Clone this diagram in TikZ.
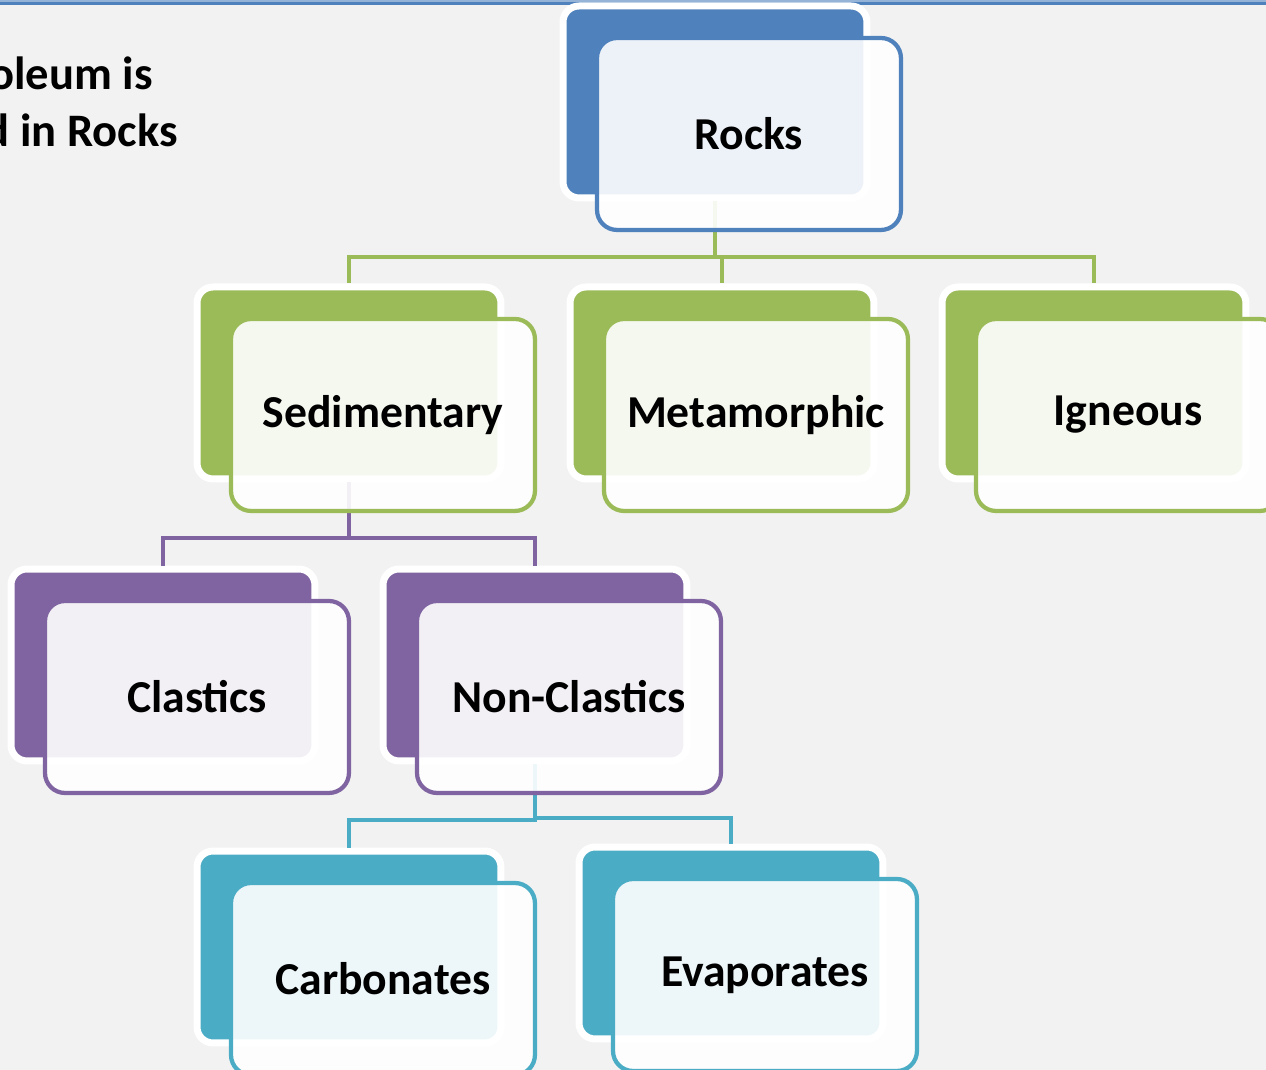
\documentclass[tikz,border=0pt]{standalone}
\usepackage{fontspec}
\setmainfont{Carlito}
\usetikzlibrary{positioning,calc}
\definecolor{paper}{HTML}{F2F2F2}
\definecolor{rockblue}{HTML}{4F81BD}
\definecolor{paleblue}{HTML}{95B3D7}
\definecolor{leaf}{HTML}{9BBB59}
\definecolor{plum}{HTML}{8064A2}
\definecolor{aqua}{HTML}{4BACC6}
\tikzset{
  shadowbox/.style={fill=#1,draw=white,line width=.14cm,rounded corners=.32cm,
    minimum width=6.08cm,minimum height=3.84cm,anchor=north west,inner sep=0pt,outer sep=0pt,
    xshift=-.04cm,yshift=.04cm},
  cardbox/.style={fill=white,fill opacity=.9,text opacity=1,draw=#1,line width=.085cm,
    rounded corners=.4cm,minimum width=6.08cm,minimum height=3.84cm,anchor=north west,
    inner sep=0pt,outer sep=0pt,font=\bfseries\fontsize{26}{30}\selectfont},
  link/.style={draw=#1,line width=.08cm,shorten <=.07cm,shorten >=.07cm},
  headline/.style={anchor=base east,inner sep=0pt,font=\bfseries\fontsize{26.5}{30}\selectfont},
}
\begin{document}
\begin{tikzpicture}[x=.02cm,y=-.02cm]
\useasboundingbox (0,0) rectangle (1266,1070);
\clip (0,0) rectangle (1266,1070);
\fill[paper] (0,0) rectangle (1266,1070);
\fill[paleblue] (0,0) rectangle (1266,2);
\fill[rockblue] (0,2) rectangle (1266,5.5);

% slide title, cut by the left edge
\node[headline] (title1) at (153,90) {Petroleum is};
\node[headline] (title2) at (178,147) {found in Rocks};

% coloured back plates
\node[shadowbox=rockblue] (rocks-b) at (565,8) {};
\node[shadowbox=leaf] (sed-b) at (199,289) {};
\node[shadowbox=leaf] (meta-b) at (572,289) {};
\node[shadowbox=leaf] (ign-b) at (944,289) {};
\node[shadowbox=plum] (clas-b) at (13,571) {};
\node[shadowbox=plum] (noncl-b) at (385,571) {};
\node[shadowbox=aqua] (carb-b) at (199,853) {};
\node[shadowbox=aqua] (evap-b) at (581,849) {};

% tree lines
\draw[link=leaf] (rocks-b.south) |- ($(rocks-b.south)!.66!(sed-b.north)$) -| (sed-b.north);
\draw[link=leaf] (rocks-b.south) |- ($(rocks-b.south)!.66!(meta-b.north)$) -| (meta-b.north);
\draw[link=leaf] (rocks-b.south) |- ($(rocks-b.south)!.66!(ign-b.north)$) -| (ign-b.north);
\draw[link=plum] (sed-b.south) |- ($(sed-b.south)!.66!(clas-b.north)$) -| (clas-b.north);
\draw[link=plum] (sed-b.south) |- ($(sed-b.south)!.66!(noncl-b.north)$) -| (noncl-b.north);
\draw[link=aqua] (noncl-b.south) |- ($(noncl-b.south)!.66!(carb-b.north)$) -| (carb-b.north);
\draw[link=aqua] (noncl-b.south) |- ($(noncl-b.south)!.66!(evap-b.north)$) -| (evap-b.north);

% front cards with the names
\node[cardbox=rockblue] (rocks) at ($(rocks-b.north west)+(34,32)$) {Rocks};
\node[cardbox=leaf] (sed) at ($(sed-b.north west)+(34,32)$) {Sedimentary};
\node[cardbox=leaf] (meta) at ($(meta-b.north west)+(34,32)$) {Metamorphic};
\node[cardbox=leaf] (ign) at ($(ign-b.north west)+(34,32)$) {Igneous};
\node[cardbox=plum] (clas) at ($(clas-b.north west)+(34,32)$) {Clastics};
\node[cardbox=plum] (noncl) at ($(noncl-b.north west)+(34,32)$) {Non-Clastics};
\node[cardbox=aqua] (carb) at ($(carb-b.north west)+(34,32)$) {Carbonates};
\node[cardbox=aqua] (evap) at ($(evap-b.north west)+(34,32)$) {Evaporates};
\end{tikzpicture}
\end{document}
